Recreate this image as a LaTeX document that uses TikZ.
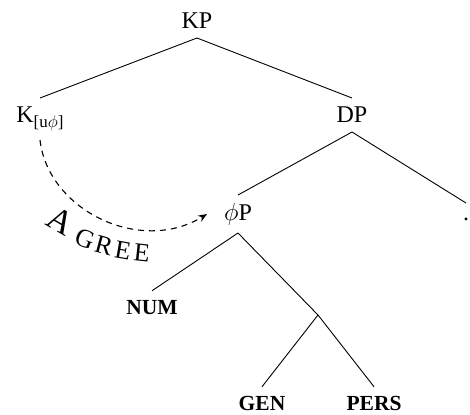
\documentclass[tikz,border=0pt]{standalone}
\usepackage{fontspec}
\setmainfont{Liberation Serif}
\usetikzlibrary{arrows.meta}
\begin{document}
\begin{tikzpicture}[x=1pt,y=-1pt,
  lab/.style={inner sep=0pt, outer sep=9pt, text height=16pt, text depth=0pt, font=\fontsize{24}{28}\selectfont},
  feat/.style={inner sep=0pt, outer sep=9pt, text height=14.5pt, text depth=0pt, font=\fontsize{21.5}{26}\selectfont\bfseries},
  branch/.style={line width=0.9pt},
  agr/.style={inner sep=0pt, font=\fontsize{26}{30}\selectfont},
  agrbig/.style={inner sep=0pt, font=\fontsize{34}{38}\selectfont},
  agree/.style={dash pattern=on 6pt off 5pt, line width=1.1pt, -{Stealth[length=9pt,width=7pt]}}
]
\useasboundingbox (0,0) rectangle (470,414);
\node[lab] (kp) at (197,21) {KP};
\node[lab] (k) at (40,115) {K\raisebox{-5pt}{\fontsize{17}{20}\selectfont[u$\phi$]}};
\node[lab] (dp) at (352,115) {DP};
\node[lab, text depth=4pt] (phip) at (238,214) {$\phi$P};
\node[lab, text height=8pt] (dot) at (466,216) {.};
\node[feat] (num) at (152,307) {NUM};
\coordinate (br) at (318,315);
\node[feat] (gen) at (262,403) {GEN};
\node[feat] (pers) at (374,403) {PERS};
\draw[branch] (kp.south) -- (k.north);
\draw[branch] (kp.south) -- (dp.north);
\draw[branch] (dp.south) -- (phip.north);
\draw[branch] (dp.south) -- (dot.north);
\draw[branch] (phip.south) -- (num.north);
\draw[branch] (phip.south) -- (br);
\draw[branch] (br) -- (gen.north);
\draw[branch] (br) -- (pers.north);
\draw[agree] ([yshift=-8pt]k.south) .. controls (48,210) and (140,255) .. ([xshift=-8pt]phip.west);
\node[agrbig, rotate=-30] (a1) at (61,221) {A};
\node[agr, rotate=-21] (a2) at (85,239) {G};
\node[agr, rotate=-15] (a3) at (104,246) {R};
\node[agr, rotate=-10] (a4) at (123,250) {E};
\node[agr, rotate=-6] (a5) at (142,253) {E};
\end{tikzpicture}
\end{document}
